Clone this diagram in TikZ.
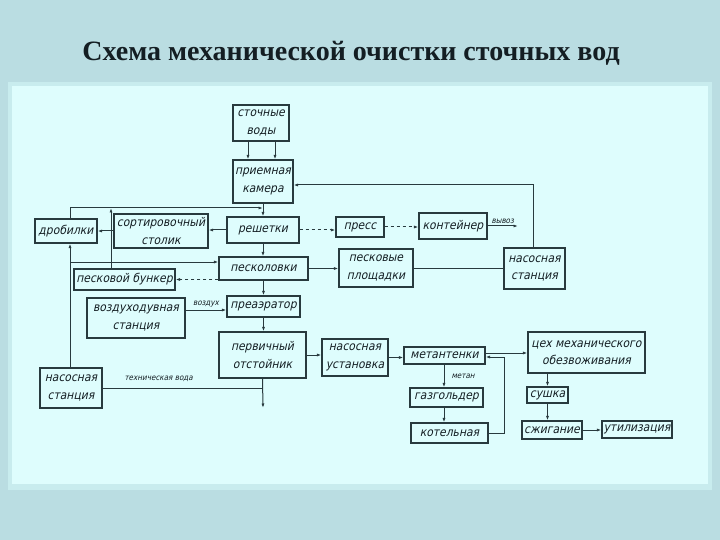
\documentclass[tikz,border=0pt]{standalone}
\usepackage{fontspec}
\setmainfont{Liberation Serif}
\newfontfamily\gost[FakeSlant=0.22]{DejaVu Sans Condensed}
\usetikzlibrary{arrows.meta}

\definecolor{outerbg}{RGB}{186,221,226}
\definecolor{panelbg}{RGB}{222,253,253}
\definecolor{paneledge}{RGB}{200,236,238}
\definecolor{linec}{RGB}{40,58,62}
\definecolor{textc}{RGB}{20,30,35}

\tikzset{
  box/.style={draw=linec, line width=1.1pt, fill=panelbg, inner sep=1pt,
    align=center, text=textc, font=\gost\fontsize{12}{17.5}\selectfont},
  arr/.style={draw=linec, line width=1pt, -{Latex[length=4.5pt,width=3pt]}},
  link/.style={draw=linec, line width=1pt},
  lbl/.style={text=textc, font=\gost\fontsize{8}{9}\selectfont, inner sep=1pt}
}

\begin{document}
\begin{tikzpicture}[x=1pt,y=-1pt]
    \useasboundingbox (0,0) rectangle (720,540);
    \fill[outerbg] (0,0) rectangle (720,540);
    \fill[paneledge] (8,82) rectangle (712,490);
    \fill[panelbg] (12,86) rectangle (708,484);

    \node[text=textc, font=\fontsize{28}{32}\selectfont\bfseries] (title) at (351,53) {Схема механической очистки сточных вод};

    % boxes
    \node[box, minimum width=56, minimum height=36] (sv) at (261,123) {сточные\\воды};
    \node[box, minimum width=60, minimum height=43] (pk) at (263,181.5) {приемная\\камера};
    \node[box, minimum width=62, minimum height=24] (drob) at (66,231) {дробилки};
    \node[box, minimum width=94, minimum height=34] (stol) at (161,231) {сортировочный\\столик};
    \node[box, minimum width=72, minimum height=26] (resh) at (263,230) {решетки};
    \node[box, minimum width=48, minimum height=20] (press) at (360,227) {пресс};
    \node[box, minimum width=68, minimum height=26] (kont) at (453,226) {контейнер};
    \node[box, minimum width=74, minimum height=38] (plosh) at (376,268) {песковые\\площадки};
    \node[box, minimum width=61, minimum height=41] (nsR) at (534.5,268.5) {насосная\\станция};
    \node[box, minimum width=89, minimum height=23] (peskl) at (263.5,268.5) {песколовки};
    \node[box, minimum width=101, minimum height=21] (bunk) at (124.5,279.5) {песковой бункер};
    \node[box, minimum width=98, minimum height=40] (vozd) at (136,318) {воздуходувная\\станция};
    \node[box, minimum width=73, minimum height=21] (preaer) at (263.5,306.5) {преаэратор};
    \node[box, minimum width=87, minimum height=46] (otst) at (262.5,355) {первичный\\отстойник};
    \node[box, minimum width=66, minimum height=37] (nsust) at (355,357.5) {насосная\\установка};
    \node[box, minimum width=81, minimum height=17] (metan) at (444.5,355.5) {метантенки};
    \node[box, minimum width=117, minimum height=41] (tsekh) at (586.5,352.5) {цех механического\\обезвоживания};
    \node[box, minimum width=73, minimum height=19] (gaz) at (446.5,397.5) {газгольдер};
    \node[box, minimum width=77, minimum height=20] (kotel) at (449.5,433) {котельная};
    \node[box, minimum width=41, minimum height=16] (sush) at (547.5,395) {сушка};
    \node[box, minimum width=60, minimum height=18] (szhig) at (552,430) {сжигание};
    \node[box, minimum width=70, minimum height=17] (util) at (637,429.5) {утилизация};
    \node[box, minimum width=62, minimum height=40] (nsL) at (71,388) {насосная\\станция};

    \coordinate (join) at (263,208);
    \coordinate (vyvoz) at (518,226);
    \coordinate (outflow) at (263,408);

    % connectors
    \draw[arr] ([xshift=-13pt]sv.south) -- ([xshift=-13pt]sv.south |- pk.north);
    \draw[arr] ([xshift=14pt]sv.south) -- ([xshift=14pt]sv.south |- pk.north);
    \draw[arr] (pk.south) -- (resh.north);
    \draw[arr] ([xshift=4pt]drob.north) |- (join);
    \draw[arr] ([xshift=-13.5pt]bunk.north) -- ([xshift=-13.5pt]bunk.north |- join);
    \draw[arr] (resh.west) -- (resh.west -| stol.east);
    \draw[arr] (stol.west) -- (stol.west -| drob.east);
    \draw[arr, dashed] (resh.east) -- (resh.east -| press.west);
    \draw[arr, dashed] (press.east) -- (press.east -| kont.west);
    \draw[arr] (kont.east) -- (vyvoz) node[lbl, midway, above=1pt] {вывоз};
    \draw[arr] (resh.south) -- (resh.south |- peskl.north);
    \draw[arr] ([xshift=-1pt]nsL.north) -- ([xshift=-1pt]nsL.north |- drob.south);
    \draw[arr] ([xshift=-1pt]nsL.north |- 0,262) -- ([yshift=6.5pt]peskl.west);
    \draw[arr] (peskl.east) -- (peskl.east -| plosh.west);
    \draw[arr, dashed] (bunk.east -| peskl.west) -- (bunk.east);
    \draw[link] (plosh.east) -- (plosh.east -| nsR.west);
    \draw[arr] ([xshift=-1.5pt]nsR.north) |- ([yshift=-3.5pt]pk.east);
    \draw[arr] (peskl.south) -- (peskl.south |- preaer.north);
    \draw[arr] (preaer.south) -- (preaer.south |- otst.north);
    \draw[arr] ([yshift=-3.5pt]preaer.west -| vozd.east) -- ([yshift=-3.5pt]preaer.west) node[lbl, midway, above=1pt] {воздух};
    \draw[arr] (otst.east) -- (otst.east -| nsust.west);
    \draw[arr] (nsust.east) -- (nsust.east -| metan.west);
    \draw[arr] ([yshift=2.5pt]metan.east) -- ([yshift=2.5pt]metan.east -| tsekh.west);
    \draw[arr] ([xshift=-0.5pt]metan.south) -- ([xshift=-0.5pt]metan.south |- gaz.north) node[lbl, midway, right=6pt] {метан};
    \draw[arr] ([xshift=-2.5pt]gaz.south) -- ([xshift=-2.5pt]gaz.south |- kotel.north);
    \draw[arr] (kotel.east) -- ++(16,0) |- ([yshift=-1.5pt]metan.east);
    \draw[arr] (sush.north |- tsekh.south) -- (sush.north);
    \draw[arr] (sush.south) -- (sush.south |- szhig.north);
    \draw[arr] (szhig.east) -- (szhig.east -| util.west);
    \draw[arr] (otst.south) -- (outflow);
    \draw[link] (nsL.east) -- (nsL.east -| outflow) node[lbl, pos=0.35, above=5pt] {техническая вода};
\end{tikzpicture}
\end{document}
